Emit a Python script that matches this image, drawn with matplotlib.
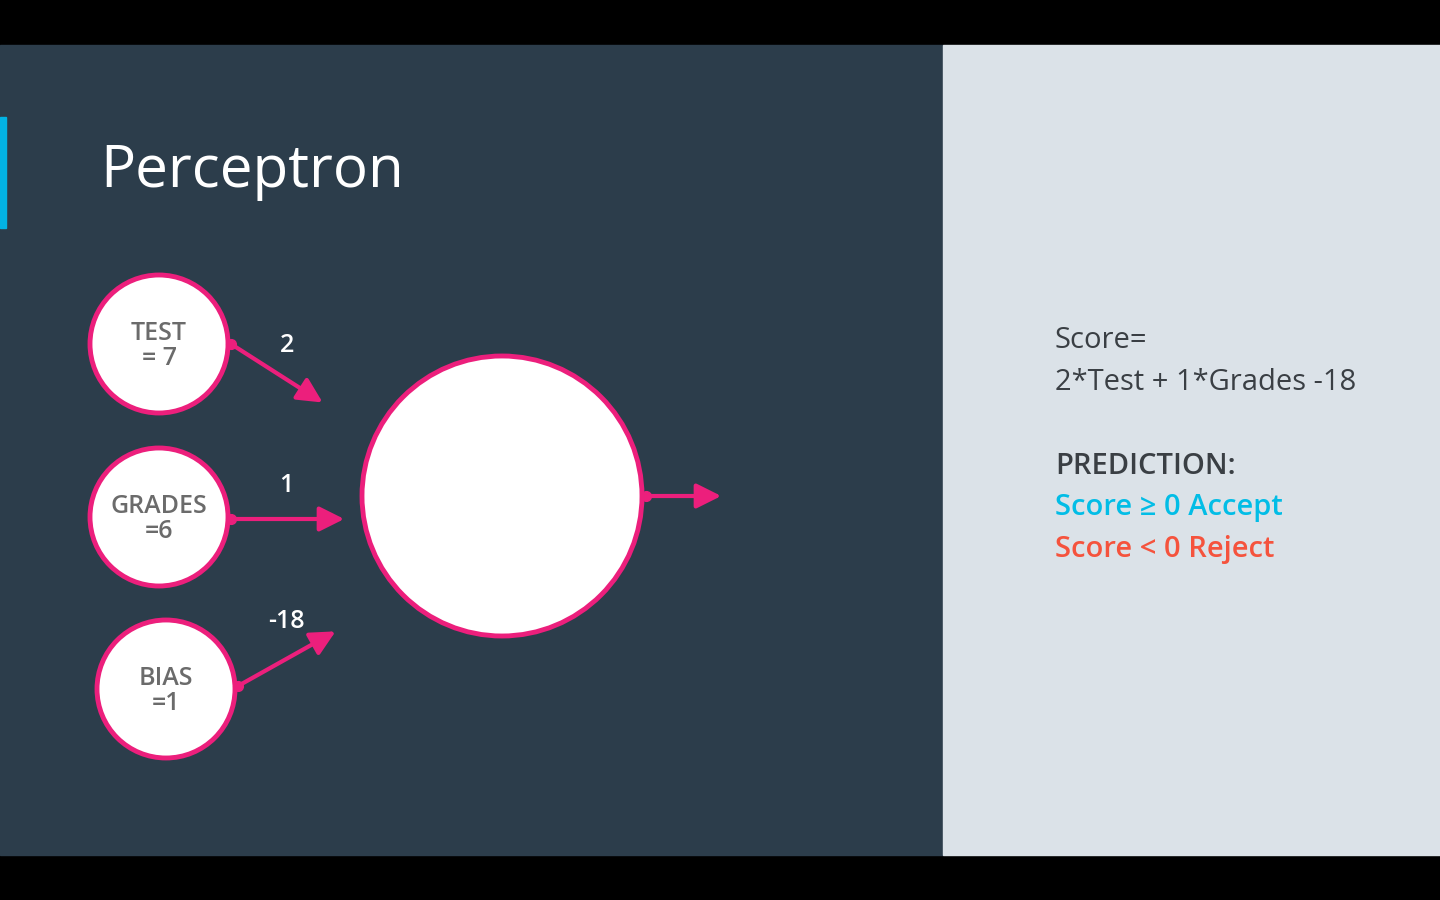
import matplotlib
matplotlib.use("Agg")
import matplotlib.pyplot as plt
from matplotlib.patches import Circle, Rectangle, FancyArrowPatch

inputs = ["TEST\n= 7", "GRADES\n=6", "BIAS\n=1"]
weights = ["2", "1", "-18"]
title = "Perceptron"

PINK = "#ec1f7c"
DARK = "#2c3d4b"
LIGHT = "#dbe2e8"

fig = plt.figure(figsize=(14.4, 9), dpi=100)
ax = fig.add_axes([0, 0, 1, 1])
ax.set_xlim(0, 1440); ax.set_ylim(900, 0); ax.axis("off")
fig.patch.set_facecolor("black")
ax.add_patch(Rectangle((0, 45), 943, 810, color=DARK))
ax.add_patch(Rectangle((943, 45), 497, 810, color=LIGHT))
ax.add_patch(Rectangle((0, 117), 6, 111, color="#02b3e4"))
ax.text(100, 172, title, color="white", fontsize=42, family="Open Sans", va="center")

centers = [(159, 344), (159, 517), (166, 689)]
starts = [(231, 344), (231, 519), (238, 686)]
ends = [(325, 404), (347, 519), (338, 630)]
lblpos = [(287, 345), (286, 486), (286, 621)]
for (cx, cy), s, e, lab, w, lp in zip(centers, starts, ends, inputs, weights, lblpos):
    ax.add_patch(Circle((cx, cy), 69, facecolor="white", edgecolor=PINK, lw=3.5))
    ax.text(cx, cy + 2, lab, ha="center", va="center", color="#6b6b6b",
            fontsize=18, family="Open Sans", fontweight="semibold", linespacing=1.05)
    ax.add_patch(FancyArrowPatch(s, e, arrowstyle="-|>,head_length=10,head_width=5",
                                 color=PINK, lw=3, mutation_scale=1.5))
    ax.plot(*s, "o", color=PINK, ms=7)
    ax.text(*lp, w, color="white", fontsize=18, family="Open Sans",
            fontweight="semibold", ha="center", va="center")

ax.add_patch(Circle((502, 496), 140, facecolor="white", edgecolor=PINK, lw=3.5))
ax.add_patch(FancyArrowPatch((644, 496), (724, 496), arrowstyle="-|>,head_length=10,head_width=5",
                             color=PINK, lw=3, mutation_scale=1.5))
ax.plot(646, 496, "o", color=PINK, ms=7)

fs = 21
ax.text(1055, 340, "Score=", color="#3a3f44", fontsize=fs, family="Open Sans", va="center")
ax.text(1055, 382, "2*Test + 1*Grades -18", color="#3a3f44", fontsize=fs, family="Open Sans", va="center")
ax.text(1055, 466, "PREDICTION:", color="#3a3f44", fontsize=fs, family="Open Sans", fontweight="semibold", va="center")
ax.text(1055, 508, "Score ≥ 0 Accept", color="#02bde6", fontsize=fs, family=["Open Sans", "DejaVu Sans"], fontweight="semibold", va="center")
ax.text(1055, 550, "Score < 0 Reject", color="#f5533d", fontsize=fs, family="Open Sans", fontweight="semibold", va="center")

fig.savefig("out.png", dpi=100, facecolor="black")
